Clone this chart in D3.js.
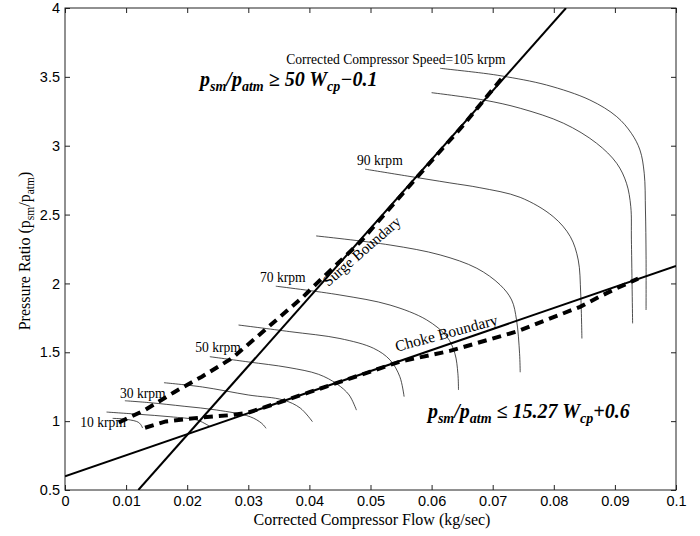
<!DOCTYPE html>
<html><head><meta charset="utf-8">
<script src="https://cdn.jsdelivr.net/npm/d3@7"></script>
<style>body{margin:0;background:#fff}svg{display:block}</style>
</head><body><svg id="c" width="700" height="536"></svg>
<script>
// ---- data ----
const xTicks = [0,0.01,0.02,0.03,0.04,0.05,0.06,0.07,0.08,0.09,0.1];
const xTickLabels = ["0","0.01","0.02","0.03","0.04","0.05","0.06","0.07","0.08","0.09","0.1"];
const yTicks = [0.5,1,1.5,2,2.5,3,3.5,4];
const yTickLabels = ["0.5","1","1.5","2","2.5","3","3.5","4"];

// speed lines: [flow, pressure ratio]
const speed10  = [[0.0078,1.02],[0.0095,1.016],[0.0117,0.998],[0.0122,0.985],[0.0125,0.968],[0.0127,0.95]];
const speed20  = [[0.0068,1.066],[0.0120,1.05],[0.0172,1.032],[0.0216,1.008],[0.0232,0.975],[0.0237,0.962]];
const speed30  = [[0.0098,1.148],[0.0139,1.134],[0.0195,1.108],[0.0248,1.081],[0.0303,1.032],[0.0322,0.984],[0.0329,0.948]];
const speed40  = [[0.0162,1.279],[0.0225,1.248],[0.0300,1.19],[0.0357,1.154],[0.0385,1.095],[0.0405,0.996]];
const speed50  = [[0.0237,1.468],[0.0300,1.43],[0.0365,1.39],[0.0415,1.34],[0.0445,1.27],[0.0465,1.19],[0.0477,1.08]];
const speed60  = [[0.0284,1.698],[0.0368,1.65],[0.0450,1.60],[0.0505,1.529],[0.0532,1.444],[0.0548,1.323],[0.0555,1.178]];
const speed70  = [[0.0345,1.98],[0.0450,1.916],[0.0532,1.843],[0.0592,1.735],[0.0625,1.613],[0.0638,1.493],[0.0643,1.347],[0.0644,1.226]];
const speed80  = [[0.0411,2.345],[0.0532,2.279],[0.0614,2.207],[0.0674,2.11],[0.0712,1.99],[0.0731,1.88],[0.0739,1.735],[0.0744,1.49],[0.0745,1.355]];
const speed90  = [[0.0491,2.83],[0.0560,2.78],[0.0630,2.73],[0.0679,2.695],[0.0745,2.625],[0.0799,2.485],[0.0827,2.34],[0.0840,2.17],[0.0844,1.93],[0.0846,1.60]];
const speed100 = [[0.0600,3.385],[0.0685,3.332],[0.0745,3.272],[0.0816,3.163],[0.0870,3.018],[0.0903,2.872],[0.0919,2.727],[0.0926,2.557],[0.0927,2.316],[0.0929,1.71]];
const speed105 = [[0.0614,3.562],[0.0685,3.526],[0.0717,3.505],[0.0788,3.441],[0.0859,3.332],[0.0903,3.211],[0.0927,3.09],[0.0941,2.969],[0.0948,2.80],[0.0950,2.533],[0.0951,2.2],[0.0951,1.807]];

const surgeBoundary = [[0.012,0.5],[0.082,4.0]];
const chokeBoundary = [[0,0.6],[0.1,2.127]];

const surgeControl = [[0.0088,0.99],[0.0131,1.081],[0.018,1.214],[0.0224,1.323],[0.0273,1.456],[0.0311,1.60],[0.0352,1.758],[0.039,1.904],[0.0412,2.0],[0.0483,2.30],[0.0576,2.77],[0.065,3.14],[0.0717,3.5]];
const chokeControl = [[0.0131,0.952],[0.0165,0.998],[0.022,1.025],[0.0275,1.045],[0.030,1.062],[0.035,1.135],[0.040,1.21],[0.045,1.285],[0.050,1.36],[0.0548,1.432],[0.063,1.51],[0.0739,1.65],[0.0843,1.83],[0.0873,1.90],[0.0903,1.965],[0.0938,2.035]];

const speedLabels = ["Corrected Compressor Speed=105 krpm","90 krpm","70 krpm","50 krpm","30 krpm","10 krpm"];
const speedLabelPos = [[0.0362,3.594],[0.0478,2.86],[0.0319,2.01],[0.0213,1.502],[0.009,1.168],[0.0025,0.958]];

const boundaryLabels = ["Surge Boundary","Choke Boundary"];
const boundaryLabelPos = [[0.0431,1.974],[0.0543,1.504]];

// ---- layout ----
const svg = d3.select("#c");
const L = 65, T = 8, W = 611, H = 482;
const x = d3.scaleLinear().domain([0,0.1]).range([L, L+W]);
const y = d3.scaleLinear().domain([0.5,4]).range([T+H, T]);

svg.append("defs").append("clipPath").attr("id","clip")
  .append("rect").attr("x",L).attr("y",T).attr("width",W).attr("height",H);

const serif = "'Liberation Serif','Times New Roman',Times,serif";
const sans = "'Liberation Sans',Arial,Helvetica,sans-serif";

// axes
const ax = svg.append("g").attr("font-family", sans);
const axBottom = d3.axisBottom(x).tickValues(xTicks).tickFormat((d,i)=>xTickLabels[i]).tickSizeInner(-5).tickSizeOuter(0).tickPadding(6);
const axTop = d3.axisTop(x).tickValues(xTicks).tickFormat("").tickSizeInner(-5).tickSizeOuter(0);
const axLeft = d3.axisLeft(y).tickValues(yTicks).tickFormat((d,i)=>yTickLabels[i]).tickSizeInner(-5).tickSizeOuter(0).tickPadding(5);
const axRight = d3.axisRight(y).tickValues(yTicks).tickFormat("").tickSizeInner(-5).tickSizeOuter(0);
[[axBottom,`translate(0,${T+H})`],[axTop,`translate(0,${T})`],[axLeft,`translate(${L},0)`],[axRight,`translate(${L+W},0)`]].forEach(([a,t])=>{
  const g = ax.append("g").attr("transform",t).call(a);
  g.select(".domain").remove();
  g.selectAll("line").attr("stroke","#222");
  g.selectAll("text").attr("font-size",14.5).attr("font-family",sans).attr("fill","#000");
});
svg.append("rect").attr("x",L).attr("y",T).attr("width",W).attr("height",H)
  .attr("fill","none").attr("stroke","#222").attr("stroke-width",1);

const plot = svg.append("g").attr("clip-path","url(#clip)");
const smooth = d3.line().x(d=>x(d[0])).y(d=>y(d[1])).curve(d3.curveCatmullRom.alpha(0.5));
const straight = d3.line().x(d=>x(d[0])).y(d=>y(d[1]));

[speed10,speed20,speed30,speed40,speed50,speed60,speed70,speed80,speed90,speed100,speed105].forEach(s=>{
  plot.append("path").attr("d",smooth(s)).attr("fill","none").attr("stroke","#111").attr("stroke-width",0.75);
});
[surgeBoundary,chokeBoundary].forEach(s=>{
  plot.append("path").attr("d",straight(s)).attr("fill","none").attr("stroke","#000").attr("stroke-width",2);
});
[surgeControl,chokeControl].forEach(s=>{
  plot.append("path").attr("d",straight(s)).attr("fill","none").attr("stroke","#000")
    .attr("stroke-width",4).attr("stroke-dasharray","9,6");
});

// speed labels
speedLabels.forEach((t,i)=>{
  svg.append("text").attr("x",x(speedLabelPos[i][0])).attr("y",y(speedLabelPos[i][1]))
    .attr("font-family",serif).attr("font-size",13.6).text(t);
});

// boundary labels
const bRot = [-41,-15], bSize = [15,15.5];
boundaryLabels.forEach((t,i)=>{
  svg.append("text").attr("transform",`translate(${x(boundaryLabelPos[i][0])},${y(boundaryLabelPos[i][1])}) rotate(${bRot[i]})`)
    .attr("font-family",serif).attr("font-size",bSize[i]).text(t);
});

// equations
function eq(px, py, parts){
  const t = svg.append("text").attr("x",px).attr("y",py).attr("font-family",serif)
    .attr("font-weight","bold").attr("font-style","italic").attr("font-size",20);
  let sub=false;
  parts.forEach(([s,isSub])=>{
    const ts = t.append("tspan").text(s);
    if(isSub && !sub){ ts.attr("dy",5).attr("font-size",14); sub=true; }
    else if(isSub){ ts.attr("font-size",14); }
    else if(!isSub && sub){ ts.attr("dy",-5); sub=false; }
  });
}
eq(x(0.0221), y(3.43), [["p",0],["sm",1],["/p",0],["atm",1],[" \u2265 50 W",0],["cp",1],["\u22120.1",0]]);
eq(x(0.0594), y(1.02), [["p",0],["sm",1],["/p",0],["atm",1],[" \u2264 15.27 W",0],["cp",1],["+0.6",0]]);

// axis titles
svg.append("text").attr("x",372).attr("y",525).attr("text-anchor","middle")
  .attr("font-family",serif).attr("font-size",16).text("Corrected Compressor Flow (kg/sec)");
const yl = svg.append("text").attr("transform","translate(30,251) rotate(-90)").attr("text-anchor","middle")
  .attr("font-family",serif).attr("font-size",16);
yl.append("tspan").text("Pressure Ratio (p");
yl.append("tspan").attr("dy",4).attr("font-size",11.5).text("sm");
yl.append("tspan").attr("dy",-4).text("/p");
yl.append("tspan").attr("dy",4).attr("font-size",11.5).text("atm");
yl.append("tspan").attr("dy",-4).text(")");
</script></body></html>
